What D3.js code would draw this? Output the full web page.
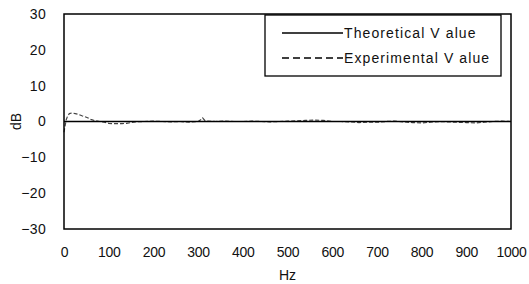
<!DOCTYPE html>
<html>
<head>
<meta charset="utf-8">
<script src="https://cdn.jsdelivr.net/npm/d3@7"></script>
<style>
  body { margin: 0; background: #fff; }
  text { font-family: "Liberation Sans", Arial, sans-serif; fill: #111; }
</style>
</head>
<body>
<svg id="chart"></svg>
<script>
//chart data
var yTicks = [-30, -20, -10, 0, 10, 20, 30];
var xTicks = [0, 100, 200, 300, 400, 500, 600, 700, 800, 900, 1000];
var seriesNames = ['Theoretical V alue', 'Experimental V alue'];
var theoFreq = [0, 1000];
var theoDb = [0, 0];
var expFreq = [0, 2, 5, 8, 12, 18, 25, 32, 40, 50, 60, 70, 80, 90, 100, 110, 120, 130, 140, 150,
               160, 180, 200, 220, 240, 260, 280, 300, 305, 310, 315, 320, 340, 360, 380, 400,
               420, 440, 460, 480, 500, 520, 540, 560, 580, 600, 620, 640, 660, 680, 700, 720,
               740, 760, 780, 800, 820, 840, 860, 880, 900, 920, 940, 960, 980, 1000];
var expDb = [-3, -1.5, 0.5, 1.5, 2.2, 2.4, 2.2, 2.0, 1.6, 1.2, 0.6, 0.2, 0, -0.2, -0.5, -0.6, -0.6, -0.6, -0.5, -0.3,
             -0.1, 0, 0.1, 0, -0.1, 0, -0.2, 0, 0.4, 1.0, 0.3, 0.1, 0, 0.1, 0, 0,
             0.1, 0, -0.1, 0, 0.1, 0.2, 0.3, 0.4, 0.3, 0, 0, -0.1, -0.3, -0.2, -0.2, 0,
             0.1, -0.1, -0.3, -0.4, -0.2, 0, -0.1, -0.2, -0.3, -0.4, -0.2, 0, 0.1, 0];

function drawChart() {
    var svg = d3.select('#chart')
        .attr('width', 529)
        .attr('height', 284);

    //plot frame extent
    var margin = {top: 14, right: 18, bottom: 55, left: 64},
        width = 529 - margin.left - margin.right,
        height = 284 - margin.top - margin.bottom;

    var x = d3.scaleLinear().domain([0, 1000]).range([0, width]);
    var y = d3.scaleLinear().domain([-30, 30]).range([height, 0]);

    var canvas = svg.append('g')
        .attr('transform', 'translate(' + margin.left + ',' + margin.top + ')');

    //y axis labels
    var yAxis = canvas.append('g')
        .call(d3.axisLeft(y).tickValues(yTicks).tickSize(0).tickPadding(18)
              .tickFormat(d => d < 0 ? '\u2212' + Math.abs(d) : d));
    yAxis.select('.domain').remove();
    yAxis.selectAll('text').style('font-size', '14px').style('letter-spacing', '0.3px').attr('font-family', null);

    //x axis labels
    var xAxis = canvas.append('g')
        .attr('transform', 'translate(0,' + height + ')')
        .call(d3.axisBottom(x).tickValues(xTicks).tickSize(0).tickPadding(18)
              .tickFormat(d3.format('d')));
    xAxis.select('.domain').remove();
    xAxis.selectAll('text').style('font-size', '14px').style('letter-spacing', '-0.3px').attr('font-family', null);

    //axis titles
    canvas.append('text')
        .attr('x', width / 2)
        .attr('y', height + 51)
        .attr('text-anchor', 'middle')
        .style('font-size', '14px')
        .text('Hz');
    canvas.append('text')
        .attr('transform', 'translate(' + (-43) + ',' + (height / 2) + ') rotate(-90)')
        .attr('text-anchor', 'middle')
        .style('font-size', '14px')
        .text('dB');

    var line = d3.line()
        .x(d => x(d[0]))
        .y(d => y(d[1]));

    //experimental series (dashed)
    canvas.append('path')
        .datum(d3.zip(expFreq, expDb))
        .attr('fill', 'none')
        .attr('stroke', '#444')
        .attr('stroke-width', 1.2)
        .attr('stroke-dasharray', '4,2')
        .attr('d', line);

    //theoretical series (solid)
    canvas.append('path')
        .datum(d3.zip(theoFreq, theoDb))
        .attr('fill', 'none')
        .attr('stroke', '#000')
        .attr('stroke-width', 1.5)
        .attr('d', line);

    //plot frame
    canvas.append('rect')
        .attr('width', width)
        .attr('height', height)
        .attr('fill', 'none')
        .attr('stroke', '#000')
        .attr('stroke-width', 1.5);

    //legend
    var legend = canvas.append('g')
        .attr('transform', 'translate(' + (265 - margin.left) + ',' + (15 - margin.top) + ')');
    legend.append('rect')
        .attr('width', 236)
        .attr('height', 61)
        .attr('fill', '#fff')
        .attr('stroke', '#000')
        .attr('stroke-width', 1.3);

    var item = legend.selectAll('.item').data(seriesNames)
        .enter().append('g')
            .attr('class', 'item')
            .attr('transform', (d, i) => 'translate(0,' + (18 + i * 25) + ')');
    item.append('line')
        .attr('x1', 17).attr('x2', 78)
        .attr('stroke', '#000')
        .attr('stroke-width', 1.3)
        .attr('stroke-dasharray', (d, i) => i ? '7,4' : null);
    item.append('text')
        .attr('x', 79)
        .attr('dy', '0.35em')
        .style('font-size', '14px')
        .style('letter-spacing', '1.1px')
        .text(d => d);
}

drawChart();
</script>
</body>
</html>
